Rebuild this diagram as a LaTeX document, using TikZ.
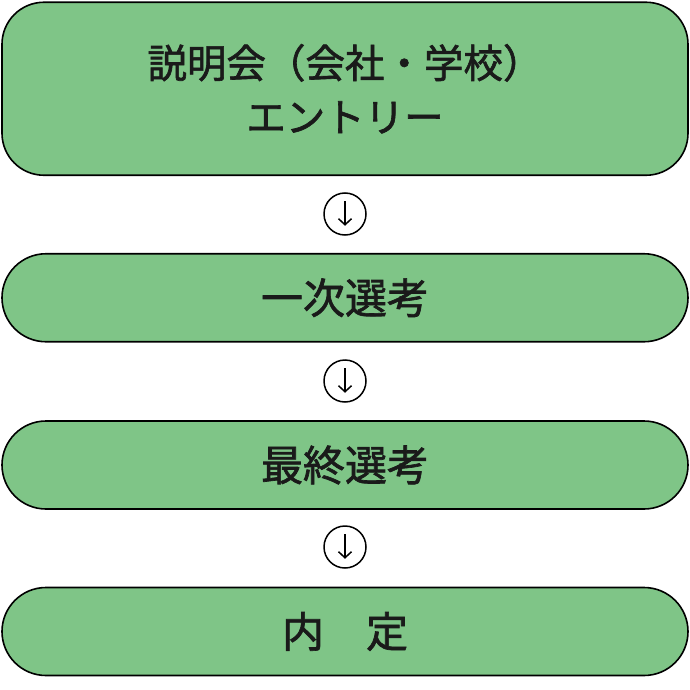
\documentclass[tikz,border=0pt]{standalone}
\usepackage{fontspec}
\newfontfamily\jpfont[FakeBold=1.6]{Noto Sans CJK JP}
\usetikzlibrary{arrows.meta}
\definecolor{stagegreen}{HTML}{7FC587}
\definecolor{inkblack}{HTML}{1A1A1A}
\tikzset{
    stage/.style={draw=black, line width=1.6pt, fill=stagegreen, minimum width=686pt,
        align=center, text=inkblack, font=\jpfont\fontsize{42}{54}\selectfont},
    short/.style={stage, minimum height=88pt, rounded corners=44pt},
    nextmark/.style={draw=black, circle, line width=1.5pt, fill=white, minimum size=42pt, inner sep=0pt}
}
\begin{document}
\begin{tikzpicture}[x=1pt,y=1pt]
        \useasboundingbox (0,0) rectangle (690,-690);
        % stages
        \node[stage, minimum height=173pt, rounded corners=42pt,
            font=\jpfont\fontsize{39.5}{54}\selectfont] (entry) at (345,-88.75)
            {説明会（会社・学校）\\エントリー};
        \node[short] (first) at (345,-297.75) {一次選考};
        \node[short] (final) at (345,-465) {最終選考};
        \node[short] (offer) at (345,-631.5) {内　定};
        % down marks
        \foreach \y/\n in {-214/m1, -381/m2, -547/m3}{
            \node[nextmark] (\n) at (345,\y) {};
            \draw[line width=1.5pt, -{Straight Barb[length=6pt,width=13pt]}]
                ([yshift=-9pt]\n.north) -- ([yshift=10pt]\n.south);
            };
    \end{tikzpicture}
\end{document}
